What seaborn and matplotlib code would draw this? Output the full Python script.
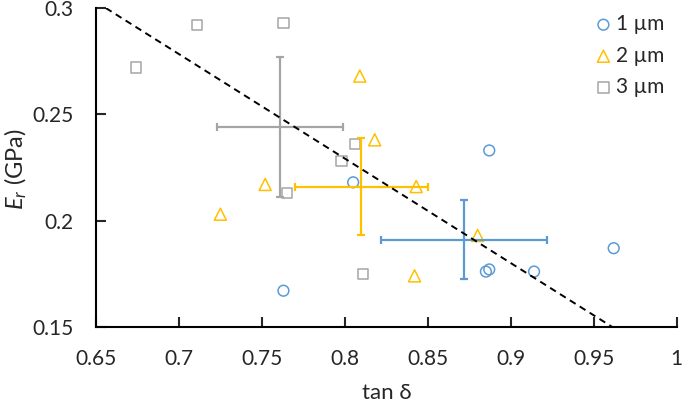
import numpy as np
import pandas as pd
import matplotlib
matplotlib.use("Agg")
import matplotlib.pyplot as plt
import seaborn as sns

# tan delta / reduced modulus per indentation depth
x_1um = [0.763, 0.805, 0.887, 0.885, 0.887, 0.914, 0.962]
y_1um = [0.167, 0.218, 0.233, 0.176, 0.177, 0.176, 0.187]
x_2um = [0.725, 0.752, 0.809, 0.818, 0.843, 0.842, 0.880]
y_2um = [0.203, 0.217, 0.268, 0.238, 0.216, 0.174, 0.193]
x_3um = [0.674, 0.711, 0.763, 0.806, 0.798, 0.765, 0.811]
y_3um = [0.272, 0.292, 0.293, 0.236, 0.228, 0.213, 0.175]

# group means with standard deviations
mean_x = [0.872, 0.810, 0.761]
mean_y = [0.191, 0.216, 0.244]
err_x = [0.050, 0.040, 0.038]
err_y = [0.0185, 0.0228, 0.0328]

labels = ["1 µm", "2 µm", "3 µm"]
colors = ["#5B9BD5", "#FFC000", "#A5A5A5"]
markers = ["o", "^", "s"]
sizes = [60, 75, 55]

# linear trend line end points
fit_x = [0.656, 0.961]
fit_y = [0.300, 0.150]

df = pd.concat([
    pd.DataFrame({"tan_delta": x_1um, "Er": y_1um, "depth": labels[0]}),
    pd.DataFrame({"tan_delta": x_2um, "Er": y_2um, "depth": labels[1]}),
    pd.DataFrame({"tan_delta": x_3um, "Er": y_3um, "depth": labels[2]}),
])

sns.set_style("white")
plt.rcParams["font.family"] = ["Lato", "DejaVu Sans"]
plt.rcParams["mathtext.fontset"] = "custom"
plt.rcParams["mathtext.it"] = "Lato:italic"
plt.rcParams["mathtext.rm"] = "Lato"

fig, ax = plt.subplots(figsize=(6.85, 4.03), dpi=100)
fig.subplots_adjust(left=0.140, right=0.988, top=0.980, bottom=0.189)

for lab, col, mk, sz in zip(labels, colors, markers, sizes):
    sub = df[df["depth"] == lab]
    sns.scatterplot(data=sub, x="tan_delta", y="Er", ax=ax, marker=mk, s=sz,
                    color=col, facecolors="none", edgecolor=col,
                    linewidth=1.1, label=lab, zorder=3)

for i, col in enumerate(colors):
    ax.errorbar(mean_x[i], mean_y[i], xerr=err_x[i], yerr=err_y[i],
                color=col, lw=1.6, capsize=3, capthick=1.6, zorder=4)

sns.lineplot(x=fit_x, y=fit_y, ax=ax, color="black", lw=1.4,
             linestyle=(0, (3.5, 2.5)), zorder=5)

ax.set_xlim(0.65, 1.0)
ax.set_ylim(0.15, 0.3)
ax.set_xticks(np.arange(0.65, 1.001, 0.05))
ax.set_yticks([0.15, 0.2, 0.25, 0.3])
ax.set_xticklabels(["0.65", "0.7", "0.75", "0.8", "0.85", "0.9", "0.95", "1"])
ax.set_yticklabels(["0.15", "0.2", "0.25", "0.3"])
ax.tick_params(direction="in", length=7, width=1.5, labelsize=15, pad=16,
               left=True, bottom=True)

sns.despine(ax=ax)
for side in ["left", "bottom"]:
    ax.spines[side].set_linewidth(1.5)
    ax.spines[side].set_color("black")

ax.set_xlabel("tan δ", fontsize=16)
ax.set_ylabel(r"$E_r$ (GPa)", fontsize=17)
ax.xaxis.set_label_coords(0.5, -0.175)
ax.yaxis.set_label_coords(-0.115, 0.495)

ax.legend(loc="upper right", bbox_to_anchor=(1.0, 1.02), frameon=False,
          fontsize=15, handletextpad=0.1, labelspacing=0.55,
          handlelength=1.0, borderaxespad=0.2)

plt.savefig("out.png", dpi=100)
